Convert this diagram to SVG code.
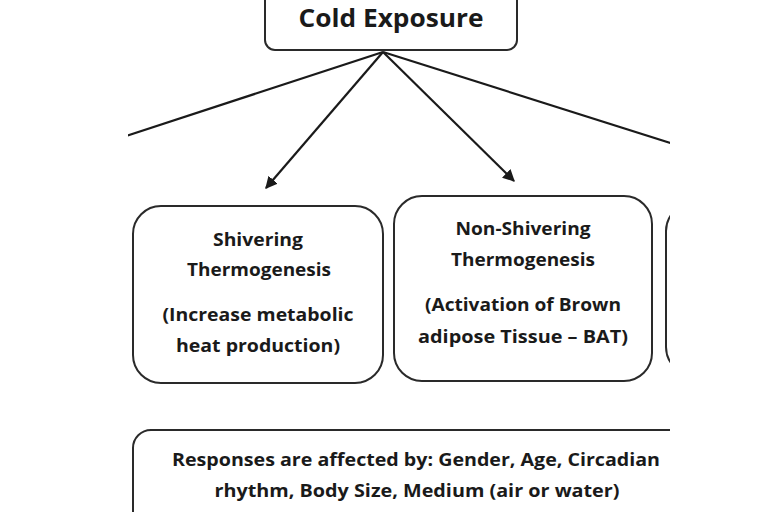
<svg xmlns="http://www.w3.org/2000/svg" width="768" height="512" viewBox="0 0 768 512">
<style>
.box{fill:#fff;stroke:#2a2a2a;stroke-width:2}
.t{font-family:"Open Sans","Liberation Sans",sans-serif;font-weight:bold;fill:#1a1a1a;text-anchor:middle}
.c{stroke:#1a1a1a;stroke-width:2.2;fill:none}
</style>
<defs>
<clipPath id="crop"><rect x="128" y="0" width="542" height="512"/></clipPath>
<marker id="ah" viewBox="0 0 10 10" refX="9" refY="5" markerWidth="5.5" markerHeight="5.5" orient="auto" markerUnits="strokeWidth">
<path d="M0,0 L10,5 L0,10 z" fill="#1a1a1a"/>
</marker>
</defs>
<rect width="768" height="512" fill="#fff"/>
<g clip-path="url(#crop)">
<g id="cold">
<rect class="box" x="265" y="-20" width="252" height="70" rx="10"/>
<text class="t" x="391" y="27" font-size="25" textLength="185" lengthAdjust="spacingAndGlyphs">Cold Exposure</text>
</g>
<g id="connectors">
<line class="c" x1="383" y1="52" x2="120" y2="138"/>
<line class="c" x1="383" y1="52" x2="266" y2="188" marker-end="url(#ah)"/>
<line class="c" x1="383" y1="52" x2="514" y2="181" marker-end="url(#ah)"/>
<line class="c" x1="383" y1="52" x2="680" y2="146"/>
</g>
<g id="shivering">
<rect class="box" x="133" y="206" width="250" height="177" rx="28"/>
<text class="t" x="258" y="246" font-size="17" textLength="90" lengthAdjust="spacingAndGlyphs">Shivering</text>
<text class="t" x="259" y="276" font-size="17" textLength="144" lengthAdjust="spacingAndGlyphs">Thermogenesis</text>
<text class="t" x="258" y="321" font-size="17" textLength="191" lengthAdjust="spacingAndGlyphs">(Increase metabolic</text>
<text class="t" x="258" y="352" font-size="17" textLength="164" lengthAdjust="spacingAndGlyphs">heat production)</text>
</g>
<g id="nonshivering">
<rect class="box" x="394" y="196" width="258" height="185" rx="28"/>
<text class="t" x="523" y="235" font-size="17" textLength="135" lengthAdjust="spacingAndGlyphs">Non-Shivering</text>
<text class="t" x="523" y="266" font-size="17" textLength="144" lengthAdjust="spacingAndGlyphs">Thermogenesis</text>
<text class="t" x="523" y="311" font-size="17" textLength="196" lengthAdjust="spacingAndGlyphs">(Activation of Brown</text>
<text class="t" x="523" y="343" font-size="17" textLength="210" lengthAdjust="spacingAndGlyphs">adipose Tissue – BAT)</text>
</g>
<g id="third">
<rect class="box" x="666" y="203" width="200" height="172" rx="28"/>
</g>
<g id="factors">
<rect class="box" x="133" y="430" width="600" height="120" rx="18"/>
<text class="t" x="416" y="466" font-size="17" textLength="488" lengthAdjust="spacingAndGlyphs">Responses are affected by: Gender, Age, Circadian</text>
<text class="t" x="417" y="497" font-size="17" textLength="405" lengthAdjust="spacingAndGlyphs">rhythm, Body Size, Medium (air or water)</text>
</g>
</g>
</svg>
